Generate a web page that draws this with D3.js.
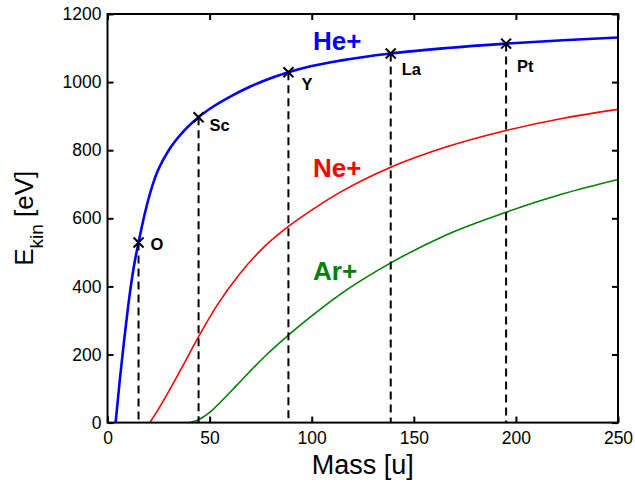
<!DOCTYPE html>
<html>
<head>
<meta charset="utf-8">
<script src="https://cdn.jsdelivr.net/npm/d3@7"></script>
<style>
  html, body { margin: 0; padding: 0; background: #fff; }
  svg { display: block; }
  text { font-family: Arial, "Liberation Sans", Helvetica, sans-serif; }
</style>
</head>
<body>
<svg id="chart" width="635" height="486"></svg>
<script>
// ---- data ----
const xTicks = [0, 50, 100, 150, 200, 250];
const yTicks = [0, 200, 400, 600, 800, 1000, 1200];

const heMass = [3.97, 6, 8, 10, 12, 13.5, 15.2, 18.3, 23.2, 29.7, 37.9, 44.6, 52, 61.5, 70, 77.9, 88.6, 100, 113.8, 138.7, 166.1, 195.2, 223, 250];
const heE    = [0, 124, 234, 336, 424, 478, 529, 615, 718, 797, 860, 897, 929, 962, 987, 1007, 1029, 1047, 1063, 1084, 1100, 1113, 1123, 1131];

const neMass = [20.7, 24.5, 28.9, 37.0, 44.4, 53.4, 64.8, 76.2, 88.6, 100.7, 113.8, 138.7, 166.1, 195.2, 223.2, 250];
const neE    = [0, 35, 80, 168, 250, 342, 437, 513, 576, 627, 676, 750, 810, 858, 894, 920];

const arMass = [40.3, 44.4, 50, 56.6, 63, 69.7, 78, 88.6, 99.1, 113.8, 138.7, 166.1, 195.2, 223.2, 250];
const arE    = [0, 8, 30, 68, 108, 150, 200, 257, 309, 376, 469, 552, 618, 672, 714];

const seriesNames = ["He+", "Ne+", "Ar+"];

const elements   = ["O", "Sc", "Y", "La", "Pt"];
const elemMass   = [15.2, 44.6, 88.6, 138.7, 195.2];
const elemE      = [529, 897, 1029, 1084, 1113];

// ---- layout ----
const W = 635, H = 486;
const margin = { left: 107.5, right: 17, top: 14, bottom: 63.4 };
const iw = W - margin.left - margin.right;
const ih = H - margin.top - margin.bottom;

const colors = ["#0000ff", "#ff0000", "#008000"];
const widths = [2.6, 1.6, 1.6];
const seriesLabelPos = [[313, 50], [313, 177], [313, 280]]; // left, baseline (px)
const elemLabelOffset = [[12, 8], [11, 14], [13, 18], [11, 22], [11, 28]];

const svg = d3.select("#chart");
const g = svg.append("g").attr("transform", `translate(${margin.left},${margin.top})`);

const x = d3.scaleLinear().domain([0, 250]).range([0, iw]);
const y = d3.scaleLinear().domain([0, 1200]).range([ih, 0]);

svg.append("defs").append("clipPath").attr("id", "clip")
  .append("rect").attr("width", iw).attr("height", ih);

const line = d3.line().x(d => x(d[0])).y(d => y(d[1])).curve(d3.curveMonotoneX);
const series = [
  d3.zip(heMass, heE),
  d3.zip(neMass, neE),
  d3.zip(arMass, arE)
];

const plot = g.append("g").attr("clip-path", "url(#clip)");

series.forEach((s, i) => {
  plot.append("path").datum(s)
    .attr("d", line)
    .attr("fill", "none")
    .attr("stroke", colors[i])
    .attr("stroke-width", widths[i]);
});

// dashed drop lines
plot.selectAll("line.drop").data(elements).join("line")
  .attr("class", "drop")
  .attr("x1", (d, i) => x(elemMass[i])).attr("x2", (d, i) => x(elemMass[i]))
  .attr("y1", (d, i) => y(elemE[i])).attr("y2", y(0))
  .attr("stroke", "#000").attr("stroke-width", 2)
  .attr("stroke-dasharray", "8,5");

// markers
const mk = g.selectAll("g.mk").data(elements).join("g")
  .attr("transform", (d, i) => `translate(${x(elemMass[i])},${y(elemE[i])})`);
mk.append("path").attr("d", "M-5,-5L5,5M-5,5L5,-5")
  .attr("stroke", "#000").attr("stroke-width", 2).attr("fill", "none");
mk.append("text")
  .attr("x", (d, i) => elemLabelOffset[i][0])
  .attr("y", (d, i) => elemLabelOffset[i][1])
  .attr("font-size", 16.5).attr("font-weight", "bold").attr("fill", "#000")
  .text(d => d);

// series labels
svg.selectAll("text.sl").data(seriesNames).join("text")
  .attr("class", "sl")
  .attr("x", (d, i) => seriesLabelPos[i][0])
  .attr("y", (d, i) => seriesLabelPos[i][1])
  .attr("font-size", 26).attr("font-weight", "bold")
  .attr("fill", (d, i) => colors[i])
  .text(d => d);

// axes
const axisFont = 17.5;
const fmt = d3.format("d");
const xAxis = g.append("g").attr("transform", `translate(0,${ih})`)
  .call(d3.axisBottom(x).tickValues(xTicks).tickFormat(fmt).tickSizeInner(-6).tickSizeOuter(0).tickPadding(9));
const xTop = g.append("g")
  .call(d3.axisTop(x).tickValues(xTicks).tickSizeInner(-6).tickSizeOuter(0).tickFormat(""));
const yAxis = g.append("g")
  .call(d3.axisLeft(y).tickValues(yTicks).tickFormat(fmt).tickSizeInner(-6).tickSizeOuter(0).tickPadding(6));
const yRight = g.append("g").attr("transform", `translate(${iw},0)`)
  .call(d3.axisRight(y).tickValues(yTicks).tickSizeInner(-6).tickSizeOuter(0).tickFormat(""));

[xAxis, xTop, yAxis, yRight].forEach(a => {
  a.selectAll(".domain").remove();
  a.selectAll(".tick line").attr("stroke", "#000").attr("stroke-width", 2);
  a.selectAll(".tick text").attr("font-size", axisFont).attr("fill", "#000")
    .attr("font-family", "Arial, 'Liberation Sans', Helvetica, sans-serif");
});

// frame
g.append("rect").attr("width", iw).attr("height", ih)
  .attr("fill", "none").attr("stroke", "#000").attr("stroke-width", 2);

// axis titles
svg.append("text")
  .attr("x", margin.left + iw / 2).attr("y", 474)
  .attr("text-anchor", "middle").attr("font-size", 27).attr("fill", "#000")
  .text("Mass [u]");

const yt = svg.append("text")
  .attr("transform", `translate(33,${margin.top + ih / 2}) rotate(-90)`)
  .attr("text-anchor", "middle").attr("font-size", 26).attr("fill", "#000");
yt.append("tspan").text("E");
yt.append("tspan").attr("font-size", 19).attr("dy", 10).text("kin");
yt.append("tspan").attr("dy", -10).text(" [eV]");
</script>
</body>
</html>
